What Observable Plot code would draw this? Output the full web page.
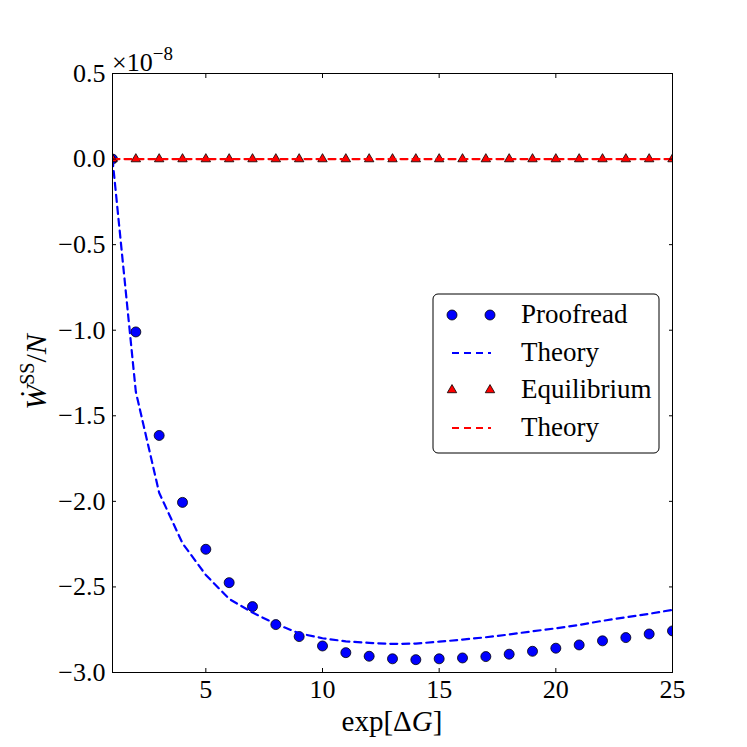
<!DOCTYPE html>
<html><head><meta charset="utf-8">
<script src="https://cdn.jsdelivr.net/npm/d3@7"></script>
<script src="https://cdn.jsdelivr.net/npm/@observablehq/plot@0.6"></script>
<style>
body{margin:0;background:#fff}
#chart{width:747px;height:747px}
</style>
</head><body><div id="chart"></div>
<script>
// values in units of 1e-8
const xs = [1,2,3,4,5,6,7,8,9,10,11,12,13,14,15,16,17,18,19,20,21,22,23,24,25];
const proofread = [0,-1.01,-1.615,-2.006,-2.28,-2.475,-2.615,-2.72,-2.79,-2.845,-2.884,-2.905,-2.92,-2.925,-2.92,-2.915,-2.907,-2.893,-2.876,-2.858,-2.839,-2.815,-2.796,-2.775,-2.757];
const proofreadTheory = [0,-1.36,-1.95,-2.245,-2.43,-2.57,-2.65,-2.716,-2.771,-2.80,-2.818,-2.827,-2.833,-2.831,-2.82,-2.808,-2.794,-2.778,-2.759,-2.742,-2.722,-2.698,-2.677,-2.657,-2.634];
const equilibrium = [0,0,0,0,0,0,0,0,0,0,0,0,0,0,0,0,0,0,0,0,0,0,0,0,0];
const equilibriumTheory = [0,0,0,0,0,0,0,0,0,0,0,0,0,0,0,0,0,0,0,0,0,0,0,0,0];
const xTicks = [5,10,15,20,25];
const yTicks = [0.5,0,-0.5,-1,-1.5,-2,-2.5,-3];
const legendLabels = ["Proofread","Theory","Equilibrium","Theory"];

const rows = xs.map((x,i)=>({x, p:proofread[i], pt:proofreadTheory[i], e:equilibrium[i], et:equilibriumTheory[i]}));
const FONT = "'Liberation Serif', 'DejaVu Serif', serif";
const blue = "#0000ff", red = "#ff0000";

const plot = Plot.plot({
  width: 747, height: 747,
  marginLeft: 112, marginRight: 75, marginTop: 73, marginBottom: 75,
  style: {fontFamily: FONT, fontSize: "26px", background: "white", overflow: "visible", color: "black"},
  x: {domain: [1,25]},
  y: {domain: [-3, 0.5]},
  marks: [
    Plot.dot(rows, {x:"x", y:"p", r:5, fill:blue, stroke:"black", strokeWidth:0.8, clip:true}),
    Plot.line(rows, {x:"x", y:"pt", stroke:blue, strokeWidth:2.2, strokeDasharray:"7,5", clip:true}),
    Plot.dot(rows, {x:"x", y:"e", symbol:"triangle", r:3.5, fill:red, stroke:"black", strokeWidth:0.8, clip:true}),
    Plot.line(rows, {x:"x", y:"et", stroke:red, strokeWidth:2.2, strokeDasharray:"7,5", clip:true}),
    Plot.axisX({anchor:"bottom", ticks:xTicks, tickSize:-4, tickPadding:11, tickFormat:d3.format("d"), label:null}),
    Plot.axisX({anchor:"top", ticks:xTicks, tickSize:-4, tickFormat:()=>"", label:null}),
    Plot.axisY({anchor:"left", ticks:yTicks, tickSize:-4, tickPadding:11, tickFormat:d3.format(".1f"), label:null}),
    Plot.axisY({anchor:"right", ticks:yTicks, tickSize:-4, tickFormat:()=>"", label:null}),
    Plot.frame({stroke:"black", strokeWidth:1})
  ]
});
document.getElementById("chart").appendChild(plot);

const svg = d3.select(plot);
// offset text
const off = svg.append("text").attr("x",112).attr("y",71).attr("text-anchor","start").attr("font-family",FONT).attr("font-size",26).attr("fill","black");
off.append("tspan").text("×10");
off.append("tspan").attr("dy",-11).attr("font-size",19).text("−8");

// x label
const xl = svg.append("text").attr("x",392).attr("y",731).attr("text-anchor","middle").attr("font-family",FONT).attr("font-size",29).attr("fill","black");
xl.append("tspan").text("exp[Δ");
xl.append("tspan").attr("font-style","italic").text("G");
xl.append("tspan").text("]");

// y label
const yl = svg.append("text").attr("transform","translate(46,372) rotate(-90)").attr("text-anchor","middle").attr("font-family",FONT).attr("font-size",30).attr("fill","black");
yl.append("tspan").attr("font-style","italic").text("Ẇ");
yl.append("tspan").attr("dy",-12).attr("font-size",20).text("SS");
yl.append("tspan").attr("dy",12).text("/");
yl.append("tspan").attr("font-style","italic").text("N");

// legend
const lg = svg.append("g");
lg.append("rect").attr("x",433).attr("y",294).attr("width",226).attr("height",159).attr("rx",5).attr("fill","white").attr("stroke","black").attr("stroke-width",1);
const ly = [315,353,390,428];
[452,490].forEach(cx=>{
  lg.append("circle").attr("cx",cx).attr("cy",ly[0]).attr("r",5).attr("fill",blue).attr("stroke","black").attr("stroke-width",0.8);
  lg.append("path").attr("d",d3.symbol(d3.symbolTriangle, Math.PI*3.5*3.5)()).attr("transform",`translate(${cx},${ly[2]})`).attr("fill",red).attr("stroke","black").attr("stroke-width",0.8);
});
lg.append("line").attr("x1",452).attr("x2",491).attr("y1",ly[1]).attr("y2",ly[1]).attr("stroke",blue).attr("stroke-width",2.2).attr("stroke-dasharray","7,5");
lg.append("line").attr("x1",452).attr("x2",491).attr("y1",ly[3]).attr("y2",ly[3]).attr("stroke",red).attr("stroke-width",2.2).attr("stroke-dasharray","7,5");
legendLabels.forEach((t,i)=>{
  lg.append("text").attr("x",521).attr("y",ly[i]+8).attr("text-anchor","start").attr("font-family",FONT).attr("font-size",27).attr("fill","black").text(t);
});
</script>
</body></html>
